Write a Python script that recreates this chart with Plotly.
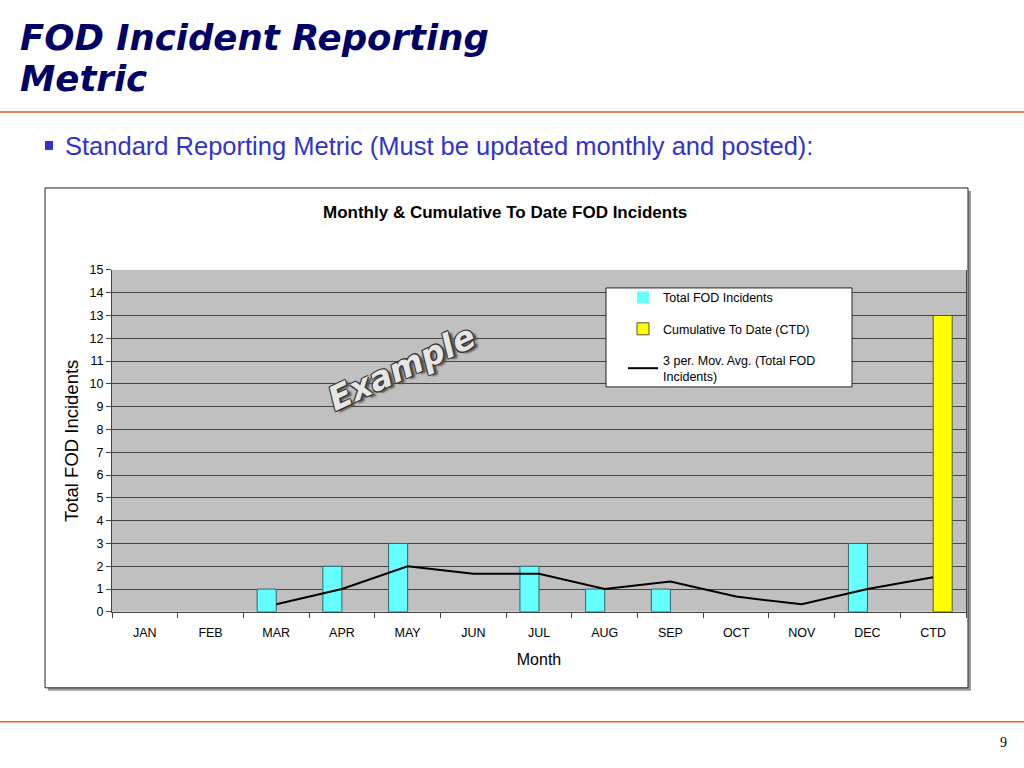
import plotly.graph_objects as go

meses = ['JAN', 'FEB', 'MAR', 'APR', 'MAY', 'JUN', 'JUL', 'AUG', 'SEP', 'OCT', 'NOV', 'DEC', 'CTD']
total_fod = [0, 0, 1, 2, 3, 0, 2, 1, 1, 0, 0, 3, None]
cumulativo = [None, None, None, None, None, None, None, None, None, None, None, None, 13]
media_movel = [None, None, 0.33, 1.0, 2.0, 1.67, 1.67, 1.0, 1.33, 0.67, 0.33, 1.0, 1.52]
y_ticks = list(range(0, 16))

W, H = 1024, 768


def px(x):
    return x / W


def py(y):
    # a foto da pagina sai um pouco achatada na vertical, compensa aqui
    return 1 - ((y - 7) / 0.982) / H


# sem contorno nas barras de valor zero
borda_total = [1 if v else 0 for v in total_fod]

fig = go.Figure()
fig.add_trace(go.Bar(name='Total FOD Incidents', x=meses, y=total_fod,
                     marker_color='#66FFFF', marker_line_color='#336666',
                     marker_line_width=borda_total, legendgroup='a'))
fig.add_trace(go.Bar(name='Cumulative To Date (CTD)', x=meses, y=cumulativo,
                     marker_color='#FFFF00', marker_line_color='#555533',
                     marker_line_width=1, legendgroup='b'))
fig.add_trace(go.Scatter(name='3 per. Mov. Avg. (Total FOD<br>Incidents)', x=meses, y=media_movel,
                         mode='lines', line=dict(color='black', width=2), legendgroup='c'))

shapes = [
    # linhas laranja do slide
    dict(type='line', xref='paper', yref='paper', x0=0, x1=1, y0=py(112), y1=py(112),
         line=dict(color='#E0804F', width=2)),
    dict(type='line', xref='paper', yref='paper', x0=0, x1=1, y0=py(722), y1=py(722),
         line=dict(color='#F05A28', width=1.5)),
    # marcador do bullet
    dict(type='rect', xref='paper', yref='paper', x0=px(45), x1=px(53), y0=py(141), y1=py(150),
         fillcolor='#3333CC', line_width=0),
    # moldura do grafico com sombra
    dict(type='rect', xref='paper', yref='paper', x0=px(48), x1=px(971), y0=py(191), y1=py(691),
         fillcolor='#9A9A9A', line_width=0, layer='below'),
    dict(type='rect', xref='paper', yref='paper', x0=px(45), x1=px(968), y0=py(188), y1=py(688),
         fillcolor='white', line=dict(color='#222', width=1), layer='below'),
    # fundo cinza da area do grafico
    dict(type='rect', xref='x domain', yref='y domain', x0=0, x1=1, y0=0, y1=1,
         fillcolor='#C0C0C0', line_width=0, layer='below'),
    # caixa da legenda
    dict(type='rect', xref='paper', yref='paper', x0=px(606), x1=px(852), y0=py(288), y1=py(387),
         fillcolor='white', line=dict(color='#222', width=1), layer='above'),
]

fonte_titulo = dict(family='DejaVu Sans', size=35.5, color='#000066', weight='bold', style='italic')
annotations = [
    dict(text='FOD Incident Reporting', xref='paper', yref='paper', borderpad=0,
         x=px(19), y=py(59), xanchor='left', yanchor='bottom', showarrow=False, font=fonte_titulo),
    dict(text='Metric', xref='paper', yref='paper', borderpad=0,
         x=px(19), y=py(57), xanchor='left', yanchor='top', showarrow=False, font=fonte_titulo),
    dict(text='Standard Reporting Metric (Must be updated monthly and posted):', xref='paper', yref='paper',
         x=px(63), y=py(146), xanchor='left', yanchor='middle', showarrow=False,
         font=dict(family='Liberation Sans', size=25.5, color='#3333CC')),
    dict(text='<b>Monthly & Cumulative To Date FOD Incidents</b>', xref='paper', yref='paper',
         x=px(505), y=py(213), xanchor='center', yanchor='middle', showarrow=False,
         font=dict(family='Liberation Sans', size=17, color='black')),
    dict(text='Example', xref='paper', yref='paper', x=px(402), y=py(368), showarrow=False,
         textangle=-25,
         font=dict(family='DejaVu Sans', size=33, color='#E6E6E6', weight='bold', style='italic',
                   shadow='1px 1px 0 #333, -1px -1px 0 #333, 1px -1px 0 #333, -1px 1px 0 #333, 3px 3px 2px #555')),
    dict(text='9', xref='paper', yref='paper', x=px(1009), y=py(752), showarrow=False,
         font=dict(family='Liberation Serif', size=14, color='black')),
]

fig.update_layout(
    width=W, height=H, autosize=False,
    margin=dict(l=0, r=0, t=0, b=0),
    paper_bgcolor='white', plot_bgcolor='rgba(0,0,0,0)',
    barmode='group', bargap=0.42, bargroupgap=0,
    font=dict(family='Liberation Sans', color='black'),
    shapes=shapes, annotations=annotations,
    legend=dict(x=px(623), y=py(283), xanchor='left', yanchor='top',
                bgcolor='rgba(0,0,0,0)', borderwidth=0, tracegroupgap=12,
                font=dict(size=12.5, family='Liberation Sans'), traceorder='grouped'),
    xaxis=dict(domain=[px(112), px(966)], title=dict(text='Month', font=dict(size=16), standoff=14),
               tickfont=dict(size=12.5), ticks='outside', ticklen=5, tickson='boundaries',
               ticklabelstandoff=9,
               tickcolor='#444', showline=True, linecolor='#444', linewidth=1, showgrid=False),
    yaxis=dict(domain=[py(612), py(270)], range=[0, 15], tickvals=y_ticks,
               title=dict(text='Total FOD Incidents', font=dict(size=18.5), standoff=6),
               tickfont=dict(size=12.5), ticks='outside', ticklen=5, tickcolor='#444',
               showline=True, linecolor='#444', linewidth=1, mirror=True,
               showgrid=True, gridcolor='#444', gridwidth=1, zeroline=False),
)

fig.write_html('out.html', config={'displayModeBar': False},
               post_script="document.body.style.margin='0';")
